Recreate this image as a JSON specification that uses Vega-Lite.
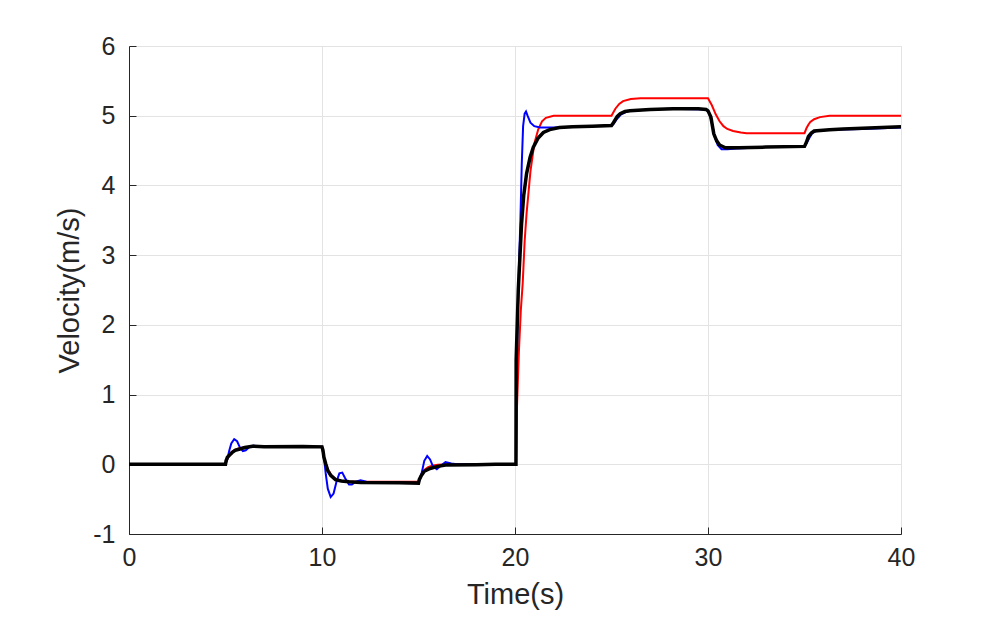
{
  "$schema": "https://vega.github.io/schema/vega-lite/v6.json",
  "width": 772,
  "height": 488,
  "autosize": {"type": "none"},
  "padding": {"left": 129, "top": 46, "right": 96, "bottom": 83},
  "background": "white",
  "config": {
    "font": "Liberation Sans",
    "view": {"stroke": "#e3e3e3", "strokeWidth": 1},
    "axis": {
      "grid": true, "gridColor": "#e3e3e3", "gridWidth": 1,
      "domainColor": "#262626", "tickColor": "#262626",
      "labelColor": "#262626", "titleColor": "#262626",
      "labelFont": "Liberation Sans", "titleFont": "Liberation Sans",
      "labelFontSize": 25, "titleFontSize": 29, "titleFontWeight": "normal",
      "tickSize": -7, "labelFlush": false, "labelExpr": "'' + datum.value"
    }
  },
  "datasets": {
    "red": [
      {"t":0,"v":0},{"t":5,"v":0},{"t":5.1,"v":0.08},{"t":5.2,"v":0.13},{"t":5.3,"v":0.17},{"t":5.5,"v":0.21},{"t":5.7,"v":0.23},{"t":6,"v":0.245},{"t":6.5,"v":0.25},{"t":10,"v":0.25},
      {"t":10.1,"v":0.1},{"t":10.2,"v":0.0},{"t":10.3,"v":-0.07},{"t":10.5,"v":-0.16},{"t":10.7,"v":-0.21},{"t":11,"v":-0.24},{"t":11.5,"v":-0.25},{"t":15,"v":-0.25},
      {"t":15.1,"v":-0.17},{"t":15.2,"v":-0.12},{"t":15.3,"v":-0.08},{"t":15.5,"v":-0.04},{"t":15.7,"v":-0.02},{"t":16,"v":-0.005},{"t":16.5,"v":0},{"t":20.05,"v":0},
      {"t":20.1,"v":0.8},{"t":20.2,"v":1.6},{"t":20.3,"v":2.2},{"t":20.4,"v":2.6},{"t":20.5,"v":3.2},{"t":20.6,"v":3.6},{"t":20.7,"v":3.9},{"t":20.8,"v":4.2},{"t":20.9,"v":4.4},{"t":21.0,"v":4.6},{"t":21.2,"v":4.8},{"t":21.4,"v":4.92},{"t":21.6,"v":4.97},{"t":22,"v":5.0},{"t":25,"v":5.0},
      {"t":25.2,"v":5.1},{"t":25.4,"v":5.17},{"t":25.6,"v":5.21},{"t":26,"v":5.24},{"t":26.5,"v":5.25},{"t":30,"v":5.25},
      {"t":30.2,"v":5.15},{"t":30.4,"v":5.02},{"t":30.6,"v":4.92},{"t":30.8,"v":4.85},{"t":31,"v":4.81},{"t":31.3,"v":4.78},{"t":31.7,"v":4.76},{"t":32,"v":4.75},{"t":35,"v":4.75},
      {"t":35.1,"v":4.82},{"t":35.2,"v":4.87},{"t":35.3,"v":4.91},{"t":35.5,"v":4.95},{"t":35.8,"v":4.98},{"t":36.3,"v":5.0},{"t":40,"v":5.0}
    ],
    "blue": [
      {"t":0,"v":0},{"t":5,"v":0},{"t":5.1,"v":0.08},{"t":5.2,"v":0.2},{"t":5.3,"v":0.3},{"t":5.45,"v":0.36},{"t":5.6,"v":0.33},{"t":5.75,"v":0.24},{"t":5.9,"v":0.19},{"t":6.05,"v":0.2},{"t":6.25,"v":0.25},{"t":6.45,"v":0.27},{"t":6.7,"v":0.25},{"t":10,"v":0.25},
      {"t":10.1,"v":0.1},{"t":10.2,"v":-0.15},{"t":10.3,"v":-0.35},{"t":10.45,"v":-0.47},{"t":10.6,"v":-0.42},{"t":10.75,"v":-0.25},{"t":10.9,"v":-0.13},{"t":11.05,"v":-0.12},{"t":11.2,"v":-0.2},{"t":11.4,"v":-0.29},{"t":11.55,"v":-0.29},{"t":11.75,"v":-0.25},{"t":12,"v":-0.23},{"t":12.3,"v":-0.25},{"t":13,"v":-0.26},{"t":15,"v":-0.27},
      {"t":15.1,"v":-0.2},{"t":15.2,"v":-0.08},{"t":15.3,"v":0.05},{"t":15.45,"v":0.12},{"t":15.6,"v":0.07},{"t":15.75,"v":-0.03},{"t":15.95,"v":-0.07},{"t":16.15,"v":-0.02},{"t":16.4,"v":0.03},{"t":16.7,"v":0.01},{"t":17,"v":0},{"t":20.05,"v":0},
      {"t":20.07,"v":1.2},{"t":20.13,"v":2.0},{"t":20.2,"v":2.8},{"t":20.28,"v":3.5},{"t":20.35,"v":4.3},{"t":20.42,"v":4.85},{"t":20.5,"v":5.03},{"t":20.57,"v":5.06},{"t":20.65,"v":5.0},{"t":20.8,"v":4.9},{"t":21,"v":4.85},{"t":21.3,"v":4.83},{"t":22,"v":4.83},{"t":23,"v":4.84},{"t":25,"v":4.86},
      {"t":25.1,"v":4.88},{"t":25.3,"v":4.96},{"t":25.5,"v":5.02},{"t":25.8,"v":5.06},{"t":26,"v":5.07},{"t":27,"v":5.09},{"t":28,"v":5.1},{"t":29.9,"v":5.09},
      {"t":30.05,"v":5.05},{"t":30.2,"v":4.9},{"t":30.35,"v":4.7},{"t":30.5,"v":4.58},{"t":30.7,"v":4.52},{"t":31,"v":4.52},{"t":31.5,"v":4.53},{"t":33,"v":4.55},{"t":35,"v":4.56},
      {"t":35.1,"v":4.6},{"t":35.25,"v":4.68},{"t":35.4,"v":4.75},{"t":35.6,"v":4.78},{"t":36.3,"v":4.8},{"t":38,"v":4.81},{"t":40,"v":4.83}
    ],
    "black": [
      {"t":0,"v":0},{"t":5,"v":0},{"t":5.03,"v":0.05},{"t":5.1,"v":0.1},{"t":5.2,"v":0.13},{"t":5.35,"v":0.17},{"t":5.5,"v":0.2},{"t":5.75,"v":0.22},{"t":6,"v":0.24},{"t":6.4,"v":0.26},{"t":7,"v":0.25},{"t":9,"v":0.255},{"t":10,"v":0.25},
      {"t":10.05,"v":0.2},{"t":10.1,"v":0.1},{"t":10.2,"v":0.0},{"t":10.3,"v":-0.09},{"t":10.45,"v":-0.16},{"t":10.7,"v":-0.22},{"t":11,"v":-0.24},{"t":11.4,"v":-0.25},{"t":12,"v":-0.26},{"t":14,"v":-0.265},{"t":15,"v":-0.27},
      {"t":15.04,"v":-0.22},{"t":15.15,"v":-0.16},{"t":15.3,"v":-0.1},{"t":15.6,"v":-0.06},{"t":16,"v":-0.03},{"t":16.4,"v":-0.01},{"t":18,"v":-0.005},{"t":19,"v":0},{"t":20.05,"v":0},
      {"t":20.06,"v":1.5},{"t":20.17,"v":2.5},{"t":20.34,"v":3.45},{"t":20.45,"v":3.85},{"t":20.6,"v":4.17},{"t":20.78,"v":4.4},{"t":20.95,"v":4.55},{"t":21.2,"v":4.68},{"t":21.47,"v":4.76},{"t":21.8,"v":4.8},{"t":22.3,"v":4.83},{"t":23,"v":4.84},{"t":24,"v":4.85},{"t":25,"v":4.86},
      {"t":25.1,"v":4.9},{"t":25.3,"v":4.99},{"t":25.45,"v":5.03},{"t":25.7,"v":5.06},{"t":25.95,"v":5.07},{"t":27,"v":5.09},{"t":28.2,"v":5.1},{"t":29.5,"v":5.1},{"t":29.9,"v":5.09},{"t":30,"v":5.07},
      {"t":30.15,"v":4.98},{"t":30.3,"v":4.74},{"t":30.45,"v":4.64},{"t":30.6,"v":4.58},{"t":30.9,"v":4.54},{"t":31.6,"v":4.54},{"t":33,"v":4.55},{"t":35,"v":4.56},
      {"t":35.1,"v":4.62},{"t":35.2,"v":4.7},{"t":35.35,"v":4.75},{"t":35.5,"v":4.78},{"t":36.3,"v":4.8},{"t":37,"v":4.81},{"t":38,"v":4.82},{"t":39,"v":4.83},{"t":40,"v":4.84}
    ]
  },
  "encoding": {
    "x": {"field": "t", "type": "quantitative", "scale": {"domain": [0, 40], "nice": false},
          "axis": {"values": [0, 10, 20, 30, 40], "title": "Time(s)", "labelPadding": 18, "titlePadding": 10}},
    "y": {"field": "v", "type": "quantitative", "scale": {"domain": [-1, 6], "nice": false, "zero": false},
          "axis": {"values": [-1, 0, 1, 2, 3, 4, 5, 6], "title": "Velocity(m/s)", "labelPadding": 21, "titlePadding": 8}}
  },
  "layer": [
    {"data": {"name": "red"}, "mark": {"type": "line", "color": "#ff0000", "strokeWidth": 2}},
    {"data": {"name": "blue"}, "mark": {"type": "line", "color": "#0000ff", "strokeWidth": 2}},
    {"data": {"name": "black"}, "mark": {"type": "line", "color": "#000000", "strokeWidth": 3.5}}
  ]
}
